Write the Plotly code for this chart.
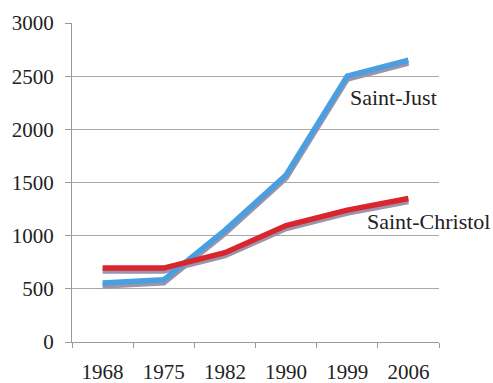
import plotly.graph_objects as go

# Population by census year
years = ["1968", "1975", "1982", "1990", "1999", "2006"]
saint_just = [555, 585, 1050, 1570, 2500, 2650]
saint_christol = [695, 695, 840, 1095, 1240, 1350]

y_ticks = [0, 500, 1000, 1500, 2000, 2500, 3000]

FONT = "Liberation Serif"
BLUE = "#4a9fe0"
RED = "#d8262c"
SHADOW = "#9d93aa"

fig = go.Figure()

# soft drop shadow under each line, drawn on a slightly shifted overlay axis
for vals in (saint_just, saint_christol):
    fig.add_trace(go.Scatter(
        x=years, y=vals, mode="lines", xaxis="x", yaxis="y2",
        line=dict(color=SHADOW, width=5.5), hoverinfo="skip", showlegend=False,
    ))

fig.add_trace(go.Scatter(
    x=years, y=saint_just, mode="lines", name="Saint-Just", yaxis="y3",
    line=dict(color=BLUE, width=5.5), showlegend=False,
))
fig.add_trace(go.Scatter(
    x=years, y=saint_christol, mode="lines", name="Saint-Christol", yaxis="y3",
    line=dict(color=RED, width=5.5), showlegend=False,
))

fig.add_annotation(x=4.75, y=2300, xref="x", yref="y", text="Saint-Just",
                   showarrow=False, font=dict(family=FONT, size=22, color="#222"))
fig.add_annotation(x=5.33, y=1137, xref="x", yref="y", text="Saint-Christol",
                   showarrow=False, font=dict(family=FONT, size=22, color="#222"))

fig.update_layout(
    width=493, height=383,
    margin=dict(l=72, r=54, t=23, b=41),
    paper_bgcolor="white", plot_bgcolor="white",
    font=dict(family=FONT, size=21, color="#222"),
    xaxis=dict(
        type="category", categoryorder="array", categoryarray=years,
        range=[-0.5, 5.5], tickson="boundaries", ticks="outside",
        ticklen=5, tickcolor="#999", showline=True, linecolor="#999",
        linewidth=1, showgrid=False, ticklabelstandoff=11, automargin=False,
        tickfont=dict(family=FONT, size=21),
    ),
    yaxis=dict(
        range=[0, 3000], tickvals=y_ticks, ticks="outside", ticklen=6,
        tickcolor="#999", showline=True, linecolor="#999", linewidth=1,
        showgrid=True, gridcolor="#a8a8a8", gridwidth=1, zeroline=False,
        ticklabelstandoff=7, automargin=False,
        tickfont=dict(family=FONT, size=21),
    ),
    yaxis2=dict(range=[28, 3028], overlaying="y", visible=False),
    yaxis3=dict(range=[0, 3000], overlaying="y", visible=False),
)

fig.write_html("out.html")
